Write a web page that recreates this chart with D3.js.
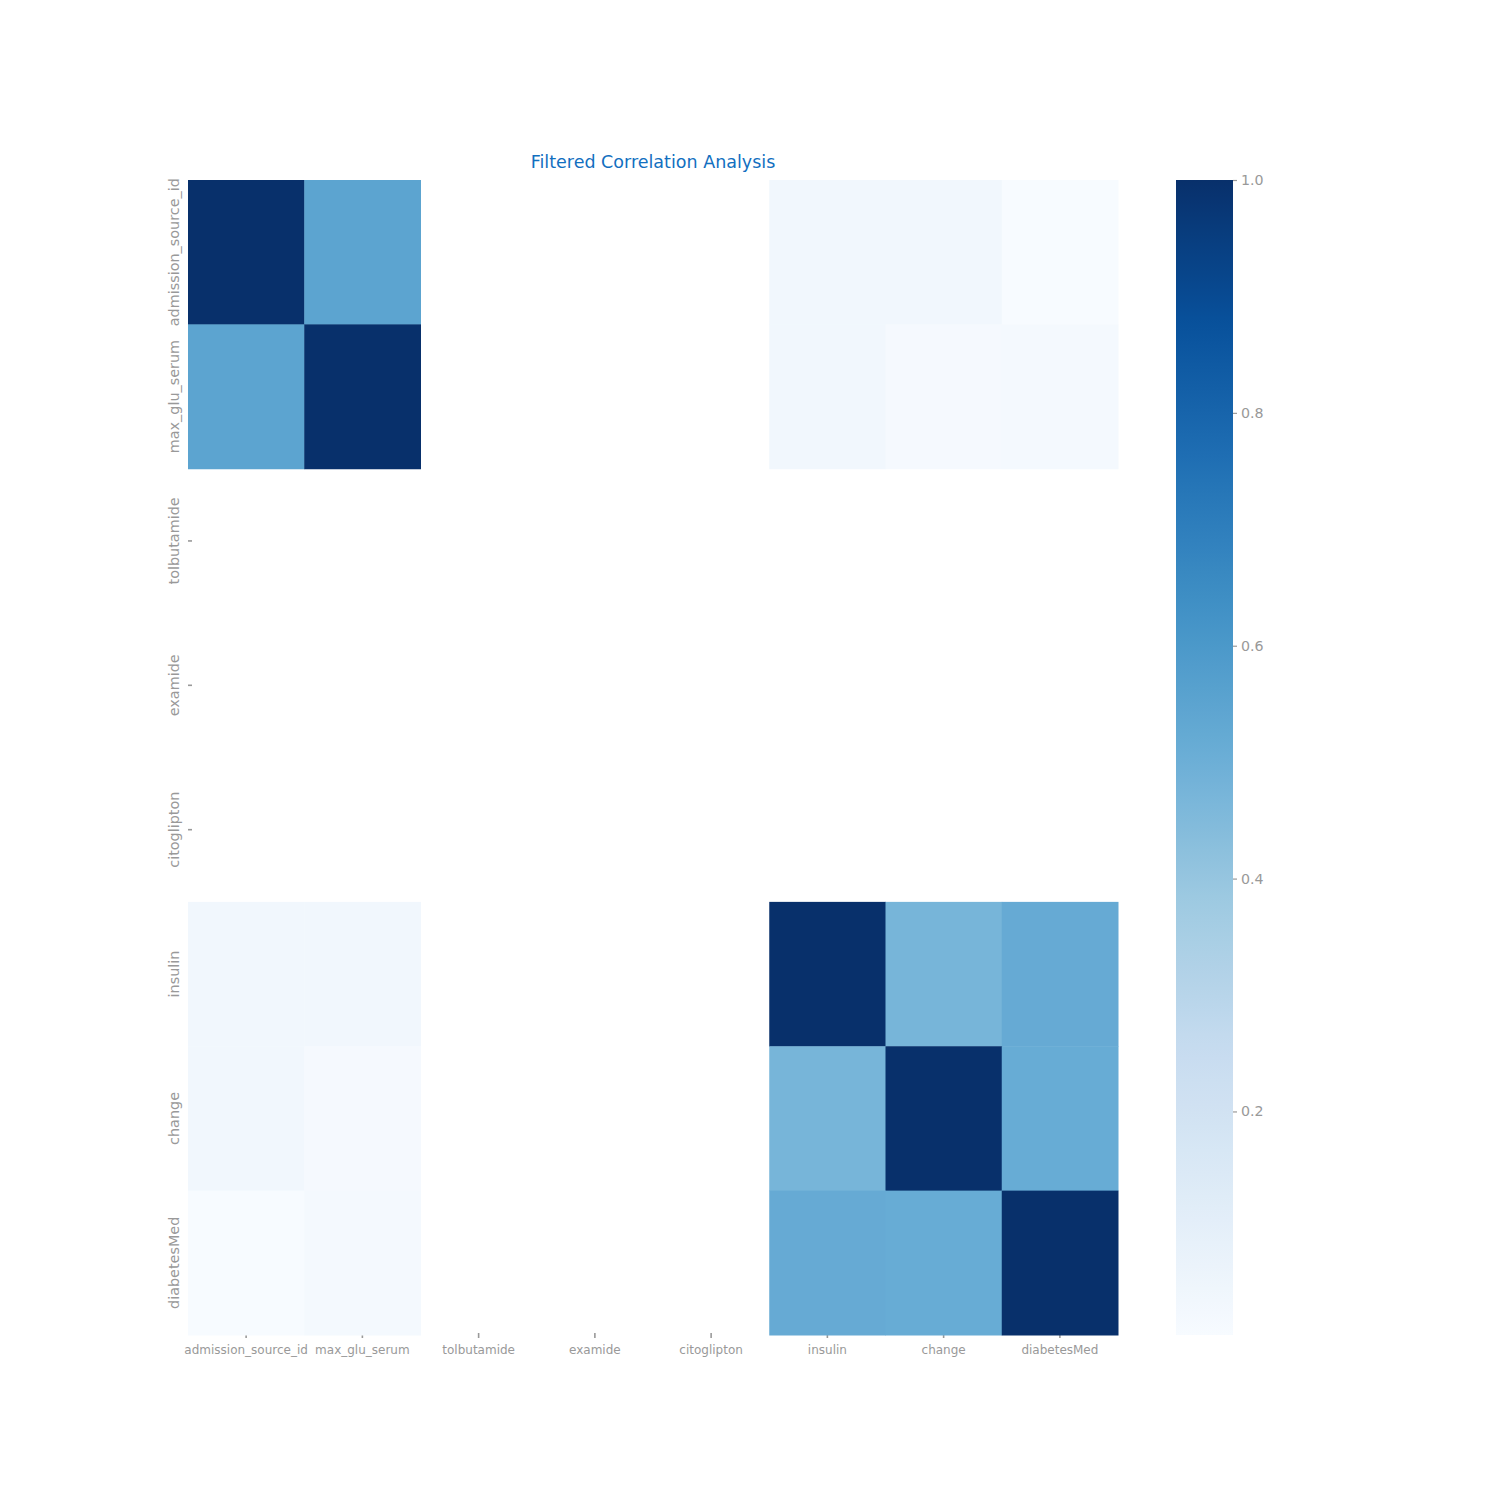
<!DOCTYPE html>
<html>
<head>
<meta charset="utf-8">
<script src="https://cdn.jsdelivr.net/npm/d3@7"></script>
<style>
body { margin: 0; background: #fff; }
text { font-family: "DejaVu Sans", sans-serif; }
</style>
</head>
<body>
<svg id="chart" width="1500" height="1500"></svg>
<script>
const variables = ["admission_source_id", "max_glu_serum", "tolbutamide", "examide", "citoglipton", "insulin", "change", "diabetesMed"];
// correlation matrix rows (null = undefined correlation, drawn blank)
const rowAdmission = [1.00, 0.55, null, null, null, 0.040, 0.040, 0.008];
const rowMaxGlu    = [0.55, 1.00, null, null, null, 0.040, 0.020, 0.022];
const rowTolbut    = [null, null, null, null, null, null, null, null];
const rowExamide   = [null, null, null, null, null, null, null, null];
const rowCitogl    = [null, null, null, null, null, null, null, null];
const rowInsulin   = [0.040, 0.040, null, null, null, 1.00, 0.475, 0.52];
const rowChange    = [0.040, 0.020, null, null, null, 0.475, 1.00, 0.515];
const rowDiabMed   = [0.008, 0.022, null, null, null, 0.52, 0.515, 1.00];
const matrix = [rowAdmission, rowMaxGlu, rowTolbut, rowExamide, rowCitogl, rowInsulin, rowChange, rowDiabMed];
const colorbarTicks = [0.2, 0.4, 0.6, 0.8, 1.0];
const chartTitle = "Filtered Correlation Analysis";

const blues = ["#f7fbff", "#deebf7", "#c6dbef", "#9ecae1", "#6baed6", "#4292c6", "#2171b5", "#08519c", "#08306b"];

(function () {
const svg = d3.select("#chart");
const pL = 188, pR = 1118, pT = 180, pB = 1335;
const gray = "#999999";

const allVals = matrix.flat().filter(v => v !== null);
const vmin = d3.min(allVals), vmax = d3.max(allVals);
const color = d3.scaleLinear()
  .domain(blues.map((_, i) => vmin + (vmax - vmin) * i / (blues.length - 1)))
  .range(blues)
  .interpolate(d3.interpolateRgb)
  .clamp(true);

const x = d3.scaleBand().domain(variables).range([pL, pR]);
const y = d3.scaleBand().domain(variables).range([pT, pB]);

// ticks (drawn beneath cells)
const xAxis = d3.axisBottom(x).tickSize(5).tickPadding(5);
const gx = svg.append("g").attr("transform", `translate(0,${pB - 2})`).call(xAxis);
gx.select(".domain").remove();
gx.selectAll("line").attr("stroke", gray).attr("stroke-width", 1.6);
gx.selectAll("text").attr("fill", gray).style("font-size", "12px").attr("font-family", "DejaVu Sans")
  .attr("transform", "translate(0,2)");

const gy = svg.append("g").attr("transform", `translate(${pL},0)`);
gy.selectAll("line.yt").data(variables).enter().append("line")
  .attr("x1", 0).attr("x2", 4)
  .attr("y1", d => y(d) + y.bandwidth() / 2).attr("y2", d => y(d) + y.bandwidth() / 2)
  .attr("stroke", gray).attr("stroke-width", 1.6);
gy.selectAll("text.yl").data(variables).enter().append("text")
  .attr("transform", d => `translate(-9,${y(d) + y.bandwidth() / 2}) rotate(-90)`)
  .attr("text-anchor", "middle")
  .attr("fill", gray)
  .style("font-size", "14.4px")
  .text(d => d);

// cells
const cells = [];
matrix.forEach((row, i) => row.forEach((v, j) => { if (v !== null) cells.push({r: variables[i], c: variables[j], v}); }));
svg.append("g").selectAll("rect").data(cells).enter().append("rect")
  .attr("x", d => x(d.c)).attr("y", d => y(d.r))
  .attr("width", x.bandwidth() + 0.5).attr("height", y.bandwidth() + 0.5)
  .attr("fill", d => color(d.v));

// title
svg.append("text")
  .attr("x", (pL + pR) / 2).attr("y", 168)
  .attr("text-anchor", "middle")
  .attr("fill", "#126fbf")
  .style("font-size", "17.5px")
  .text(chartTitle);

// colorbar
const cbL = 1176, cbR = 1233;
const cbScale = d3.scaleLinear().domain([vmin, vmax]).range([pB, pT]);
const defs = svg.append("defs");
const grad = defs.append("linearGradient").attr("id", "cbgrad")
  .attr("x1", 0).attr("y1", 1).attr("x2", 0).attr("y2", 0);
d3.range(0, 1.0001, 0.02).forEach(t => {
  grad.append("stop").attr("offset", t).attr("stop-color", color(vmin + (vmax - vmin) * t));
});
svg.append("rect")
  .attr("x", cbL).attr("y", pT)
  .attr("width", cbR - cbL).attr("height", pB - pT)
  .attr("fill", "url(#cbgrad)");
const cbAxis = d3.axisRight(cbScale).tickValues(colorbarTicks).tickFormat(d3.format(".1f")).tickSize(4).tickPadding(4);
const gcb = svg.append("g").attr("transform", `translate(${cbR},0)`).call(cbAxis);
gcb.select(".domain").remove();
gcb.selectAll("line").attr("stroke", gray).attr("stroke-width", 1.2);
gcb.selectAll("text").attr("fill", gray).style("font-size", "14.2px").attr("font-family", "DejaVu Sans");
})();
</script>
</body>
</html>
